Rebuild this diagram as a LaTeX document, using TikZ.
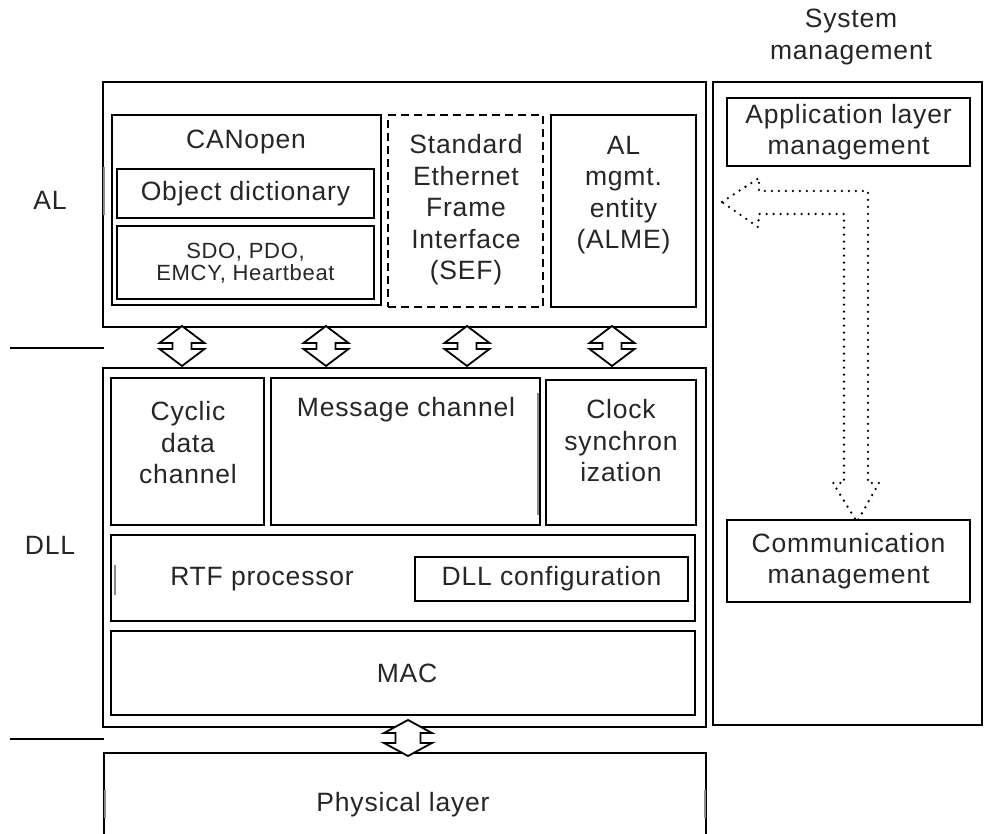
\documentclass[tikz,border=0pt]{standalone}
\usepackage{fontspec}
\setmainfont{Liberation Sans}[LetterSpace=3]
\usetikzlibrary{fit}
\begin{document}
\begin{tikzpicture}[x=1pt,y=-1pt,
  box/.style={draw, line width=1.8pt, inner sep=0pt},
  dbox/.style={draw, line width=1.6pt, inner sep=0pt, dash pattern=on 8pt off 5pt},
  txt/.style={inner sep=0pt, align=center, font=\fontsize{26.5}{31.5}\selectfont, text=black!85},
  stxt/.style={inner sep=0pt, align=center, font=\fontsize{22}{22.5}\selectfont, text=black!85},
  sep/.style={line width=2.4pt},
  artifact/.style={draw=black!45, line width=2pt},
  pics/dblA/.style={code={\draw[line width=1.8pt, fill=white, line join=miter]
    (0,-20)--(-22.5,-3)--(-9.5,-3)--(-9.5,3)--(-22.5,3)--(0,20)--(22.5,3)--(9.5,3)--(9.5,-3)--(22.5,-3)--cycle;}},
  pics/dblB/.style={code={\draw[line width=1.8pt, fill=white, line join=miter]
    (0,-18)--(-24,-5)--(-12.5,-5)--(-12.5,5)--(-24,5)--(0,18)--(24,5)--(12.5,5)--(12.5,-5)--(24,-5)--cycle;}}
]
\useasboundingbox (0,0) rectangle (988,834);

% ---------- outer boxes ----------
\node[box, fit={(103,82) (706,327)}] (al) {};
\node[box, fit={(103,368) (706,727)}] (dll) {};
\node[box, fit={(713,82) (982,725)}] (sys) {};
\coordinate (phl) at (104,753);
\coordinate (phr) at (706,753);
\draw[line width=1.8pt] (104,845) -- (phl) -- (phr) -- (706,845);
\node[txt] (phT) at (403,805) {Physical layer};

% ---------- side labels & separators ----------
\node[txt] (alLbl) at (50,200) {AL};
\node[txt] (dllLbl) at (50,545) {DLL};
\coordinate (s1a) at (10,348); \coordinate (s1b) at (104,348);
\coordinate (s2a) at (10,739); \coordinate (s2b) at (104,739);
\draw[sep] (s1a) -- (s1b);
\draw[sep] (s2a) -- (s2b);
\node[txt] (sysT) at (851,37) {System\\management};

% ---------- AL contents ----------
\node[box, fit={(112,115) (381,305)}] (can) {};
\node[txt] (canT) at (246,142) {CANopen};
\node[box, fit={(117,169) (374,218)}] (od) {};
\node[txt] at (od.center) (odT) {Object dictionary};
\node[box, fit={(117,226) (374,299)}] (sdo) {};
\node[stxt] at (245.5,263) (sdoT) {SDO, PDO,\\EMCY, Heartbeat};
\node[dbox, fit={(388,115) (543,307)}] (sef) {};
\node[txt] (sefT) at (466,210) {Standard\\Ethernet\\Frame\\Interface\\(SEF)};
\node[box, fit={(551,115) (696,307)}] (alme) {};
\node[txt] (almeT) at (623.5,195) {AL\\mgmt.\\entity\\(ALME)};

% ---------- DLL contents ----------
\node[box, fit={(111,378) (264,525)}] (cyc) {};
\node[txt] (cycT) at (188,443) {Cyclic\\data\\channel};
\node[box, fit={(271,378) (540,525)}] (msg) {};
\node[txt] (msgT) at (406,410) {Message channel};
\node[box, fit={(546,380) (696,525)}] (clk) {};
\node[txt] (clkT) at (621,441) {Clock\\synchron\\ization};
\node[box, fit={(111,535) (695,621)}] (rtf) {};
\node[txt] (rtfT) at (262,579) {RTF processor};
\node[box, fit={(415,557) (688,601)}] (cfg) {};
\node[txt] at (cfg.center) (cfgT) {DLL configuration};
\node[box, fit={(111,631) (695,715)}] (mac) {};
\node[txt] (macT) at (407,673) {MAC};

% ---------- system management contents ----------
\node[box, fit={(727,98) (970,166)}] (alm) {};
\node[txt] at (alm.center) (almT) {Application layer\\management};
\node[box, fit={(727,520) (970,602)}] (cm) {};
\node[txt] at (cm.center) (cmT) {Communication\\management};

% ---------- small gray artifacts ----------
\draw[artifact] (104,167) -- (104,215);
\draw[artifact] (537.5,393) -- (537.5,515);
\draw[artifact] (115,565) -- (115,595);
\draw[artifact] (105,790) -- (105,818);
\draw[artifact] (705,790) -- (705,818);

% ---------- double arrows between layers ----------
\coordinate (a1) at (182,346);
\coordinate (a2) at (326,346);
\coordinate (a3) at (467,346);
\coordinate (a4) at (612,346);
\coordinate (a5) at (408,738);
\pic at (a1) {dblA};
\pic at (a2) {dblA};
\pic at (a3) {dblA};
\pic at (a4) {dblA};
\pic at (a5) {dblB};

% ---------- dotted L-shaped arrow ----------
\draw[line width=2.6pt, line cap=round, dash pattern=on 0pt off 7pt]
  (722,202) -- (759,178) -- (759,191) -- (868,191) -- (868,483) -- (879,483)
  -- (857,522) -- (833,483) -- (844,483) -- (844,214) -- (759,214) -- (758,227) -- cycle;
\end{tikzpicture}
\end{document}
